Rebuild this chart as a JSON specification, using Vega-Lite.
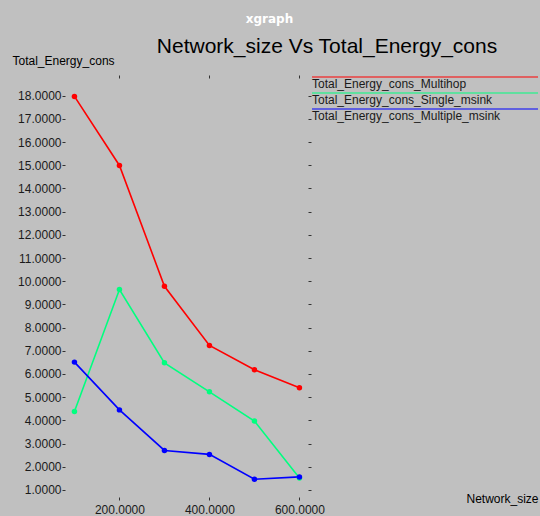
{
  "$schema": "https://vega.github.io/schema/vega-lite/v6.json",
  "autosize": "none",
  "width": 243,
  "height": 419,
  "padding": {"left": 65, "top": 78, "right": 232, "bottom": 19},
  "background": "#c0c0c0",
  "title": {
    "text": "xgraph",
    "anchor": "middle",
    "frame": "group",
    "dx": 83,
    "offset": 9,
    "font": "DejaVu Sans",
    "fontSize": 12,
    "fontWeight": "bold",
    "color": "#ffffff"
  },
  "config": {
    "font": "Liberation Sans",
    "view": {"stroke": null},
    "axis": {
      "grid": false,
      "domain": false,
      "tickColor": "#333333",
      "tickSize": 3,
      "labelFont": "Liberation Sans",
      "labelFontSize": 12,
      "labelColor": "#1a1a1a",
      "titleFont": "Liberation Sans",
      "titleFontWeight": "normal",
      "titleColor": "#000000"
    },
    "legend": {
      "orient": "none",
      "legendX": 247,
      "legendY": -2.5,
      "padding": 0,
      "rowPadding": 0,
      "symbolType": "M-1.0625,-0.875L27.19,-0.875",
      "symbolSize": 256,
      "symbolStrokeWidth": 1,
      "symbolOpacity": 1,
      "labelOffset": -17,
      "labelFont": "Liberation Sans",
      "labelFontSize": 12,
      "labelColor": "#1a1a1a",
      "labelLimit": 400
    }
  },
  "data": {
    "values": [
      {"n": 100, "v": 17.97, "s": "Total_Energy_cons_Multihop"},
      {"n": 200, "v": 14.99, "s": "Total_Energy_cons_Multihop"},
      {"n": 300, "v": 9.78, "s": "Total_Energy_cons_Multihop"},
      {"n": 400, "v": 7.23, "s": "Total_Energy_cons_Multihop"},
      {"n": 500, "v": 6.18, "s": "Total_Energy_cons_Multihop"},
      {"n": 600, "v": 5.40, "s": "Total_Energy_cons_Multihop"},
      {"n": 100, "v": 4.38, "s": "Total_Energy_cons_Single_msink"},
      {"n": 200, "v": 9.64, "s": "Total_Energy_cons_Single_msink"},
      {"n": 300, "v": 6.48, "s": "Total_Energy_cons_Single_msink"},
      {"n": 400, "v": 5.23, "s": "Total_Energy_cons_Single_msink"},
      {"n": 500, "v": 3.97, "s": "Total_Energy_cons_Single_msink"},
      {"n": 600, "v": 1.51, "s": "Total_Energy_cons_Single_msink"},
      {"n": 100, "v": 6.51, "s": "Total_Energy_cons_Multiple_msink"},
      {"n": 200, "v": 4.45, "s": "Total_Energy_cons_Multiple_msink"},
      {"n": 300, "v": 2.70, "s": "Total_Energy_cons_Multiple_msink"},
      {"n": 400, "v": 2.53, "s": "Total_Energy_cons_Multiple_msink"},
      {"n": 500, "v": 1.46, "s": "Total_Energy_cons_Multiple_msink"},
      {"n": 600, "v": 1.56, "s": "Total_Energy_cons_Multiple_msink"}
    ]
  },
  "layer": [
    {
      "mark": {"type": "line", "strokeWidth": 1.6},
      "encoding": {
        "x": {
          "field": "n", "type": "quantitative",
          "scale": {"domain": [79, 619], "nice": false, "zero": false},
          "axis": {
            "orient": "bottom",
            "values": [200, 400, 600],
            "format": ".4f",
            "labelPadding": 4,
            "title": "Network_size",
            "titleFontSize": 12,
            "titleX": 401,
            "titleY": 1,
            "titleAlign": "left",
            "titleBaseline": "middle",
            "titleAngle": 0
          }
        },
        "y": {
          "field": "v", "type": "quantitative",
          "scale": {"domain": [0.693, 18.763], "nice": false, "zero": false},
          "axis": {
            "orient": "left",
            "values": [1, 2, 3, 4, 5, 6, 7, 8, 9, 10, 11, 12, 13, 14, 15, 16, 17, 18],
            "format": ".4f",
            "labelPadding": 1,
            "title": "Total_Energy_cons",
            "titleFontSize": 12,
            "titleAngle": 0,
            "titleX": -53,
            "titleY": -18,
            "titleAlign": "left",
            "titleBaseline": "middle"
          }
        },
        "color": {
          "field": "s", "type": "nominal",
          "scale": {
            "domain": ["Total_Energy_cons_Multihop", "Total_Energy_cons_Single_msink", "Total_Energy_cons_Multiple_msink"],
            "range": ["#ff0000", "#00ff7f", "#0000ff"]
          },
          "legend": {"title": null}
        }
      }
    },
    {
      "mark": {"type": "point", "filled": true, "size": 30, "opacity": 1},
      "encoding": {
        "x": {
          "field": "n", "type": "quantitative",
          "axis": {
            "orient": "top",
            "values": [200, 400, 600],
            "labels": false,
            "title": "Network_size Vs Total_Energy_cons",
            "titleFontSize": 21,
            "titleX": 261.5,
            "titleY": -26,
            "titleAlign": "center",
            "titleBaseline": "alphabetic",
            "titleAngle": 0
          }
        },
        "y": {
          "field": "v", "type": "quantitative",
          "axis": {
            "orient": "right",
            "values": [1, 2, 3, 4, 5, 6, 7, 8, 9, 10, 11, 12, 13, 14, 15, 16, 17, 18],
            "labels": false,
            "title": null
          }
        },
        "color": {"field": "s", "type": "nominal"}
      }
    }
  ],
  "resolve": {"axis": {"x": "independent", "y": "independent"}}
}
